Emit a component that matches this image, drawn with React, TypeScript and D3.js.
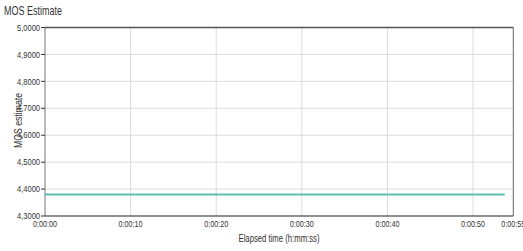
import * as d3 from "d3";

// elapsed seconds and MOS estimate
const seconds = [0, 53.7];
const mos = [4.38, 4.38];
const yTicks = [4.3, 4.4, 4.5, 4.6, 4.7, 4.8, 4.9, 5.0];
const xTicks = [0, 10, 20, 30, 40, 50, 54.7];
const xTickLabels = ["0:00:00", "0:00:10", "0:00:20", "0:00:30", "0:00:40", "0:00:50", "0:00:55"];

const W = 523;
const H = 251;
const margin = { top: 27.5, right: 9.7, bottom: 35, left: 45 };
const font = "'Liberation Sans', Arial, sans-serif";

export default function App() {
  const x = d3.scaleLinear().domain([0, 54.7]).range([margin.left, W - margin.right]);
  const y = d3.scaleLinear().domain([4.3, 5.0]).range([H - margin.bottom, margin.top]);
  const line = d3
    .line<number>()
    .x((_, i) => x(seconds[i]))
    .y((d) => y(d));
  const fmt = (v: number) => v.toFixed(4).replace(".", ",");

  return (
    <svg
      width={W}
      height={H}
      style={{ position: "absolute", left: 0, top: 0, fontFamily: font }}
    >
      <rect width={W} height={H} fill="#fff" />
      <text x={4} y={15} fontSize={12.5} fill="#333" textLength={58} lengthAdjust="spacingAndGlyphs">
        MOS Estimate
      </text>
      {/* grid */}
      {yTicks.slice(1, -1).map((t) => (
        <line key={t} x1={x(0)} x2={x(54.7)} y1={y(t)} y2={y(t)} stroke="#dcdcdc" />
      ))}
      {xTicks.slice(1, -1).map((t) => (
        <line key={t} x1={x(t)} x2={x(t)} y1={y(5)} y2={y(4.3)} stroke="#dcdcdc" />
      ))}
      {/* frame */}
      <line x1={x(0)} x2={x(54.7)} y1={y(5)} y2={y(5)} stroke="#555" strokeWidth={1.6} />
      <line x1={x(54.7)} x2={x(54.7)} y1={y(5)} y2={y(4.3)} stroke="#666" />
      <line x1={x(0)} x2={x(0)} y1={y(5)} y2={y(4.3)} stroke="#777" />
      <line x1={x(0)} x2={x(54.7)} y1={y(4.3)} y2={y(4.3)} stroke="#222" strokeWidth={1.2} />
      {/* y ticks */}
      {yTicks.map((t) => (
        <g key={t}>
          <line x1={x(0) - 4} x2={x(0)} y1={y(t)} y2={y(t)} stroke="#333" />
          <text
            x={x(0) - 5}
            y={y(t)}
            dy="0.35em"
            textAnchor="end"
            fontSize={9}
            fill="#333"
            textLength={23}
            lengthAdjust="spacingAndGlyphs"
          >
            {fmt(t)}
          </text>
        </g>
      ))}
      {/* x tick labels */}
      {xTicks.map((t, i) => (
        <text
          key={t}
          x={x(t)}
          y={y(4.3) + 10.5}
          textAnchor="middle"
          fontSize={9}
          fill="#333"
          textLength={24}
          lengthAdjust="spacingAndGlyphs"
        >
          {xTickLabels[i]}
        </text>
      ))}
      <path d={line(mos) ?? ""} fill="none" stroke="#5bbfb5" strokeWidth={2} />
      <text
        transform={`translate(22,120.5) rotate(-90)`}
        textAnchor="middle"
        fontSize={11}
        fill="#333"
        textLength={55}
        lengthAdjust="spacingAndGlyphs"
      >
        MOS estimate
      </text>
      <text
        x={279}
        y={242}
        textAnchor="middle"
        fontSize={11}
        fill="#333"
        textLength={81}
        lengthAdjust="spacingAndGlyphs"
      >
        Elapsed time (h:mm:ss)
      </text>
    </svg>
  );
}
